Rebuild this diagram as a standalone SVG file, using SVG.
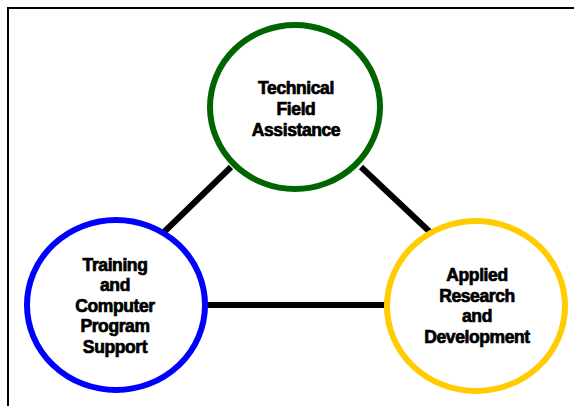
<svg xmlns="http://www.w3.org/2000/svg" width="574" height="406" viewBox="0 0 574 406">
<style>
.n{fill:#fff;stroke-width:6}
.t{font-family:"Liberation Sans",Arial,sans-serif;font-weight:bold;font-size:17.5px;text-anchor:middle;fill:#000;stroke:#000;stroke-width:0.7px;letter-spacing:-0.4px}
.c{stroke:#000;stroke-width:6;fill:none}
</style>
<rect x="0" y="0" width="574" height="406" fill="#fff"/>
<rect x="8" y="8" width="580" height="420" fill="none" stroke="#000" stroke-width="2"/>
<g id="connectors">
<line class="c" x1="163" y1="233" x2="231" y2="167"/>
<line class="c" x1="361" y1="167" x2="431" y2="233"/>
<line class="c" x1="205" y1="305" x2="386" y2="305"/>
</g>
<g id="technical">
<ellipse class="n" cx="295" cy="107" rx="85" ry="82" stroke="#006400"/>
<text class="t" x="296" y="94">Technical</text>
<text class="t" x="296" y="115">Field</text>
<text class="t" x="296" y="136">Assistance</text>
</g>
<g id="training">
<ellipse class="n" cx="116" cy="305" rx="89" ry="85" stroke="#0000ff"/>
<text class="t" x="115" y="271">Training</text>
<text class="t" x="115" y="291">and</text>
<text class="t" x="115" y="312">Computer</text>
<text class="t" x="115" y="332">Program</text>
<text class="t" x="115" y="353">Support</text>
</g>
<g id="applied">
<ellipse class="n" cx="476" cy="306" rx="89" ry="85" stroke="#ffcc00"/>
<text class="t" x="477" y="281">Applied</text>
<text class="t" x="477" y="302">Research</text>
<text class="t" x="477" y="322">and</text>
<text class="t" x="477" y="343">Development</text>
</g>
</svg>
